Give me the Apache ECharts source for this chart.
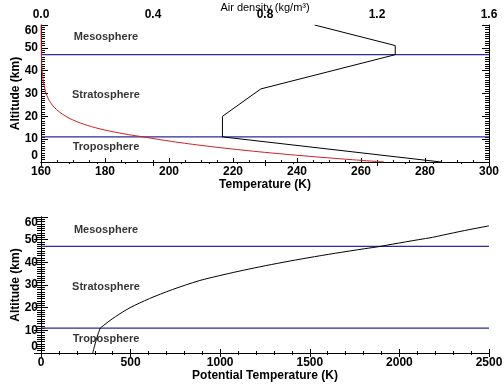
<!DOCTYPE html>
<html>
<head>
<meta charset="utf-8">
<script src="https://cdn.jsdelivr.net/npm/echarts@6/dist/echarts.min.js"></script>
<style>html,body{margin:0;padding:0;background:#fff}#c{width:504px;height:389px}</style>
</head>
<body>
<div id="c"></div>
<script>
// ---- data ----
var tempAlt = [0, 11, 20, 32, 47, 51, 60];
var tempK   = [285, 216.7, 216.7, 228.7, 270.7, 270.7, 245.5];

var densAlt = [0,1,2,3,4,5,6,7,8,9,10,11,12,13,14,15,16,17,18,19,20,22,24,26,28,30,32,35,40,45,50,55,60];
var densVal = [1.225,1.112,1.007,0.909,0.819,0.736,0.660,0.590,0.526,0.467,0.414,0.365,0.312,0.267,0.228,0.195,0.167,0.142,0.122,0.104,0.089,0.065,0.047,0.034,0.025,0.018,0.014,0.0085,0.004,0.002,0.001,0.0006,0.0003];

var thetaAlt = [0,2,4,6,8,10,11,12,14,16,18,20,22,24,26,28,30,32,34,36,38,40,42,44,46,47,48,50,51,52,54,56,56.1];
var thetaVal = [289,295,302,309,317,326,331,347,379,415,454,497,549,605,667,734,807,887,989,1100,1220,1350,1490,1642,1805,1891,1960,2107,2184,2242,2362,2493,2500];

var layerBounds = [11, 47];
var layerNames = ['Troposphere', 'Stratosphere', 'Mesosphere'];
var layerLabelAlt = [6.5, 29.3, 54.6];

var tempTicks = {min: 160, max: 300, step: 20};
var densTicks = {min: 0, max: 1.6, step: 0.4};
var thetaTicks = {min: 0, max: 2500, step: 500};
var altTicks = {min: 0, max: 60, step: 10};

// ---- build ----
function pairs(xs, ys) { return xs.map(function (x, i) { return [x, ys[i]]; }); }
var FONT = 'Liberation Sans';
var lblStyle = {fontFamily: FONT, fontWeight: 'bold', fontSize: 12, color: '#000'};
var axLine = {show: true, lineStyle: {color: '#000', width: 1}};

function xAx(grid, pos, t, opts) {
  var o = {
    type: 'value', gridIndex: grid, position: pos, min: t.min, max: t.max, interval: t.step,
    axisLine: axLine, splitLine: {show: false},
    axisTick: {show: true, inside: true, length: 4, lineStyle: {color: '#000'}},
    minorTick: {show: true, splitNumber: opts.minor, length: 2, lineStyle: {color: '#000'}},
    axisLabel: Object.assign({show: opts.labels, margin: 4,
      formatter: opts.fmt || function (v) { return String(v); }}, lblStyle)
  };
  if (opts.name) {
    o.name = opts.name; o.nameLocation = 'middle'; o.nameGap = opts.nameGap;
    o.nameMoveOverlap = false;
    o.nameTextStyle = opts.nameStyle || lblStyle;
  }
  return o;
}
function yAx(grid, pos, labels) {
  var o = {
    type: 'value', gridIndex: grid, position: pos, min: altTicks.min, max: altTicks.max, interval: altTicks.step,
    axisLine: axLine, splitLine: {show: false},
    axisTick: {show: true, inside: true, length: 7, lineStyle: {color: '#000'}},
    minorTick: {show: true, splitNumber: 10, length: 4, lineStyle: {color: '#000'}},
    axisLabel: Object.assign({show: labels, margin: 3, verticalAlignMinLabel: 'bottom', verticalAlignMaxLabel: 'top',
      formatter: function (v) { return String(v); }}, lblStyle)
  };
  if (labels) {
    o.name = 'Altitude (km)'; o.nameLocation = 'middle'; o.nameGap = 19; o.nameRotate = 90;
    o.nameMoveOverlap = false;
    o.nameTextStyle = lblStyle;
  }
  return o;
}

var series = [];
// top grid
series.push({type: 'line', xAxisIndex: 0, yAxisIndex: 0, data: pairs(tempK, tempAlt), symbol: 'none',
  lineStyle: {color: '#000', width: 1}, z: 3});
series.push({type: 'line', xAxisIndex: 1, yAxisIndex: 0, data: pairs(densVal, densAlt), symbol: 'none', smooth: 0.3,
  lineStyle: {color: '#d02020', width: 1}, z: 3});
layerBounds.forEach(function (b) {
  series.push({type: 'line', xAxisIndex: 0, yAxisIndex: 0, data: [[tempTicks.min, b], [tempTicks.max, b]], symbol: 'none',
    lineStyle: {color: '#2a2a9c', width: 1.3}, z: 2});
  series.push({type: 'line', xAxisIndex: 2, yAxisIndex: 2, data: [[thetaTicks.min, b], [thetaTicks.max, b]], symbol: 'none',
    lineStyle: {color: '#2a2a9c', width: 1.3}, z: 2});
});
// bottom grid
series.push({type: 'line', xAxisIndex: 2, yAxisIndex: 2, data: pairs(thetaVal, thetaAlt), symbol: 'none', smooth: 0.3,
  lineStyle: {color: '#000', width: 1}, z: 3});
// layer name labels
var lblX0 = 180.3, lblX1 = 363;
var txt = {show: true, position: 'inside', formatter: function (p) { return p.data.n; },
  fontFamily: FONT, fontWeight: 'bold', fontSize: 11, color: '#000'};
series.push({type: 'scatter', xAxisIndex: 0, yAxisIndex: 0, symbolSize: 1, itemStyle: {color: 'rgba(0,0,0,0)'},
  label: txt, z: 5, data: layerNames.map(function (n, i) { return {value: [lblX0, layerLabelAlt[i]], n: n}; })});
series.push({type: 'scatter', xAxisIndex: 2, yAxisIndex: 2, symbolSize: 1, itemStyle: {color: 'rgba(0,0,0,0)'},
  label: txt, z: 5, data: layerNames.map(function (n, i) { return {value: [lblX1, layerLabelAlt[i] - 0.3], n: n}; })});

var chart = echarts.init(document.getElementById('c'), null, {renderer: 'canvas'});
chart.setOption({
  animation: false,
  backgroundColor: '#fff',
  grid: [
    {left: 41, top: 25, width: 448, height: 137, containLabel: false, outerBoundsMode: 'none'},
    {left: 41, top: 217, width: 448, height: 136, containLabel: false, outerBoundsMode: 'none'}
  ],
  xAxis: [
    xAx(0, 'bottom', tempTicks, {minor: 4, labels: true, name: 'Temperature (K)', nameGap: 17}),
    xAx(0, 'top', densTicks, {minor: 4, labels: true, fmt: function (v) { return v.toFixed(1); },
      name: 'Air density (kg/m\u00B3)', nameGap: 12,
      nameStyle: {fontFamily: FONT, fontSize: 11, color: '#000'}}),
    xAx(1, 'bottom', thetaTicks, {minor: 5, labels: true, name: 'Potential Temperature (K)', nameGap: 17}),
    xAx(1, 'top', thetaTicks, {minor: 5, labels: false})
  ],
  yAxis: [
    yAx(0, 'left', true), yAx(0, 'right', false),
    yAx(1, 'left', true), yAx(1, 'right', false)
  ],
  series: series
});
</script>
</body>
</html>
